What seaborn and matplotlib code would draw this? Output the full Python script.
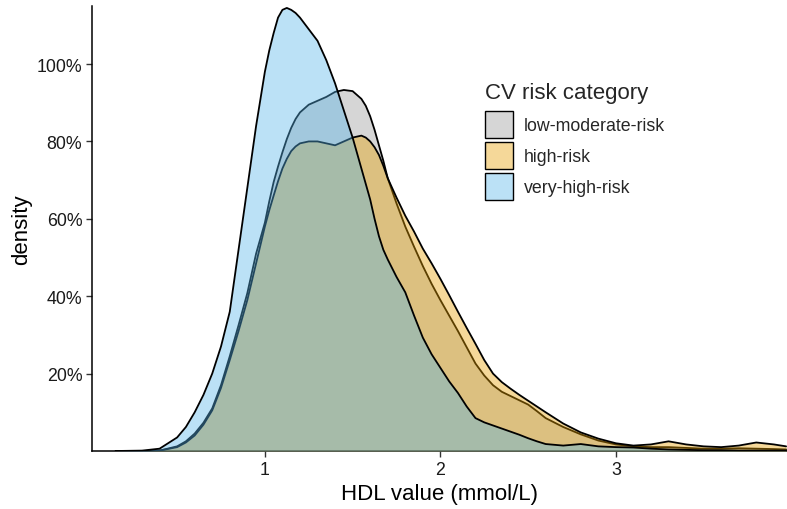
import numpy as np
import pandas as pd
import seaborn as sns
import matplotlib.pyplot as plt
from matplotlib.patches import Patch
from matplotlib.colors import to_rgba
from matplotlib.ticker import PercentFormatter

# HDL grid (mmol/L) and density for each risk group
hdl = [0.15, 0.3, 0.4, 0.5, 0.55, 0.6, 0.65, 0.7, 0.75, 0.8,
       0.85, 0.9, 0.95, 1.0, 1.025, 1.05, 1.075, 1.1, 1.125, 1.15,
       1.175, 1.2, 1.25, 1.3, 1.35, 1.4, 1.45, 1.5, 1.55, 1.575,
       1.6, 1.625, 1.65, 1.675, 1.7, 1.75, 1.8, 1.85, 1.9, 1.95,
       2.0, 2.05, 2.1, 2.15, 2.2, 2.25, 2.3, 2.35, 2.4, 2.45,
       2.5, 2.55, 2.6, 2.7, 2.8, 2.9, 3.0, 3.1, 3.2, 3.3,
       3.4, 3.5, 3.6, 3.7, 3.8, 3.9, 3.97]

low_moderate = [0.0, 0.0, 0.001, 0.012, 0.025, 0.045, 0.073, 0.11, 0.17, 0.245,
                0.325, 0.408, 0.51, 0.59, 0.645, 0.695, 0.735, 0.772, 0.806, 0.835,
                0.858, 0.875, 0.895, 0.905, 0.915, 0.928, 0.933, 0.93, 0.91, 0.892,
                0.865, 0.83, 0.79, 0.75, 0.705, 0.64, 0.58, 0.528, 0.478, 0.432,
                0.39, 0.35, 0.31, 0.268, 0.226, 0.195, 0.17, 0.153, 0.142, 0.131,
                0.12, 0.103, 0.085, 0.062, 0.043, 0.027, 0.017, 0.012, 0.01, 0.01,
                0.008, 0.006, 0.006, 0.007, 0.006, 0.005, 0.004]

high = [0.0, 0.0, 0.001, 0.01, 0.022, 0.04, 0.068, 0.105, 0.163, 0.235,
        0.31, 0.39, 0.485, 0.58, 0.622, 0.66, 0.697, 0.73, 0.755, 0.775,
        0.787, 0.795, 0.80, 0.80, 0.795, 0.79, 0.80, 0.81, 0.815, 0.81,
        0.80, 0.785, 0.765, 0.737, 0.705, 0.655, 0.608, 0.567, 0.523, 0.485,
        0.445, 0.403, 0.36, 0.318, 0.277, 0.235, 0.20, 0.178, 0.161, 0.145,
        0.13, 0.115, 0.10, 0.071, 0.048, 0.032, 0.02, 0.014, 0.017, 0.025,
        0.017, 0.012, 0.01, 0.014, 0.022, 0.017, 0.012]

very_high = [0.0, 0.001, 0.006, 0.035, 0.062, 0.10, 0.145, 0.20, 0.27, 0.36,
             0.52, 0.68, 0.84, 0.98, 1.035, 1.08, 1.12, 1.14, 1.145, 1.14,
             1.132, 1.12, 1.09, 1.06, 1.01, 0.95, 0.88, 0.81, 0.73, 0.69,
             0.65, 0.60, 0.555, 0.52, 0.495, 0.45, 0.41, 0.35, 0.293, 0.25,
             0.215, 0.18, 0.15, 0.115, 0.085, 0.074, 0.066, 0.058, 0.05, 0.042,
             0.033, 0.025, 0.018, 0.014, 0.018, 0.012, 0.01, 0.009, 0.006, 0.004,
             0.003, 0.002, 0.002, 0.001, 0.001, 0.001, 0.001]

categories = ["low-moderate-risk", "high-risk", "very-high-risk"]
colors = ["#999999", "#E69F00", "#56B4E9"]

df = pd.DataFrame({
    "hdl": hdl * 3,
    "density": low_moderate + high + very_high,
    "category": np.repeat(categories, len(hdl)),
})

sns.set_theme(style="ticks")
plt.rcParams["font.family"] = ["Liberation Sans", "DejaVu Sans"]

fig = plt.figure(figsize=(7.87, 5.10), dpi=100)
ax = fig.add_axes([92 / 787, 58 / 510, 695 / 787, 445 / 510])

# each group: fill then outline, stacked in order like ggplot
for i, (cat, col) in enumerate(zip(categories, colors)):
    sub = df[df["category"] == cat]
    ax.fill_between(sub["hdl"], sub["density"], color=col, alpha=0.4, lw=0, zorder=2 + 2 * i)
    sns.lineplot(data=sub, x="hdl", y="density", color="black", lw=1.3,
                 errorbar=None, ax=ax, zorder=3 + 2 * i, legend=False)

ax.set_xlim(0.015, 3.975)
ax.set_ylim(0, 1.15)
ax.set_xticks([1, 2, 3])
ax.set_yticks([0.2, 0.4, 0.6, 0.8, 1.0])
ax.yaxis.set_major_formatter(PercentFormatter(xmax=1, decimals=0))

sns.despine(ax=ax)
for side in ["left", "bottom"]:
    ax.spines[side].set_color("black")
    ax.spines[side].set_linewidth(1.1)
ax.tick_params(length=4, width=1, color="#333333", labelsize=12.8,
               labelcolor="#1a1a1a", pad=3)

ax.set_xlabel("HDL value (mmol/L)", fontsize=16, labelpad=4, color="black")
ax.set_ylabel("density", fontsize=16, labelpad=3, color="black")

handles = [Patch(facecolor=to_rgba(c, 0.4), edgecolor="black", lw=1) for c in colors]
leg = ax.legend(handles, categories, title="CV risk category", loc="upper left",
                bbox_to_anchor=(485 / 787, 1 - 83 / 510), bbox_transform=fig.transFigure,
                frameon=False, fontsize=12.8, title_fontsize=16,
                handlelength=1.55, handleheight=1.95, labelspacing=0.22,
                handletextpad=0.65, borderpad=0, borderaxespad=0, alignment="left")
leg._legend_box.sep = 6

fig.savefig("out.png", dpi=100)
